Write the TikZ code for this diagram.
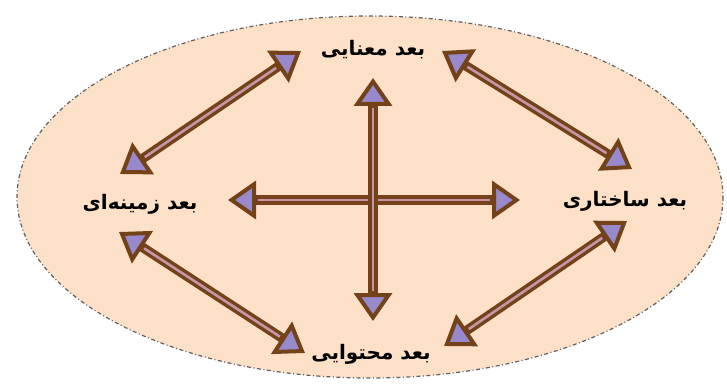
\documentclass[tikz,border=0pt]{standalone}
\usepackage{fontspec}
\usepackage{tikz}
\usetikzlibrary{arrows.meta,positioning}
\TeXXeTstate=1
\newfontfamily\farsifont[Script=Arabic]{DejaVu Sans}
\definecolor{dimbrown}{RGB}{115,66,24}
\definecolor{dimlilac}{RGB}{152,136,204}
\definecolor{dimstripe}{RGB}{196,150,168}
\definecolor{dimpeach}{RGB}{252,224,200}
\definecolor{dimedge}{RGB}{95,95,95}
\tikzset{
    dimlabel/.style={font=\farsifont\bfseries\fontsize{20}{24}\selectfont, text=black, inner sep=1pt},
    dimarrow/.style={line width=9.5pt, dimbrown,
        {Triangle[length=28pt, width=38pt, fill=dimlilac, color=dimbrown, line width=4pt]}-{Triangle[length=28pt, width=38pt, fill=dimlilac, color=dimbrown, line width=4pt]}},
    dimline/.style={line width=2.6pt, dimstripe, shorten <=30pt, shorten >=30pt},
    outer/.style={fill=dimpeach, draw=dimedge, line width=1.2pt, dash pattern=on 4pt off 2.5pt on 1pt off 2.5pt},
}
\begin{document}
\begin{tikzpicture}[x=1pt, y=-1pt]
    \useasboundingbox (0,0) rectangle (727,385);

    % Background ellipse
    \draw[outer] (370,197) ellipse [x radius=353, y radius=181];

    % Dimensions
    \node[dimlabel] (sem) at (373,50) {\beginR بعد معنایی\endR};
    \node[dimlabel] (ctx) at (140,204) {\beginR بعد زمینه‌ای\endR};
    \node[dimlabel] (str) at (625,201) {\beginR بعد ساختاری\endR};
    \node[dimlabel] (cnt) at (371,354) {\beginR بعد محتوایی\endR};

    % Arrow ends
    \coordinate (tlA) at (120,174);  \coordinate (tlB) at (301,51);
    \coordinate (trA) at (442,51);   \coordinate (trB) at (632,169);
    \coordinate (blA) at (119,232);  \coordinate (blB) at (305,353);
    \coordinate (brA) at (444,346);  \coordinate (brB) at (627,221);
    \coordinate (hA) at (228,200);   \coordinate (hB) at (520,200);
    \coordinate (vA) at (373,78);    \coordinate (vB) at (373,321);

    % Double arrows
    \foreach \a/\b in {tlA/tlB, trA/trB, blA/blB, brA/brB, hA/hB, vA/vB} {
        \draw[dimarrow] (\a) -- (\b);
        \draw[dimline] (\a) -- (\b);
    }
\end{tikzpicture}
\end{document}
